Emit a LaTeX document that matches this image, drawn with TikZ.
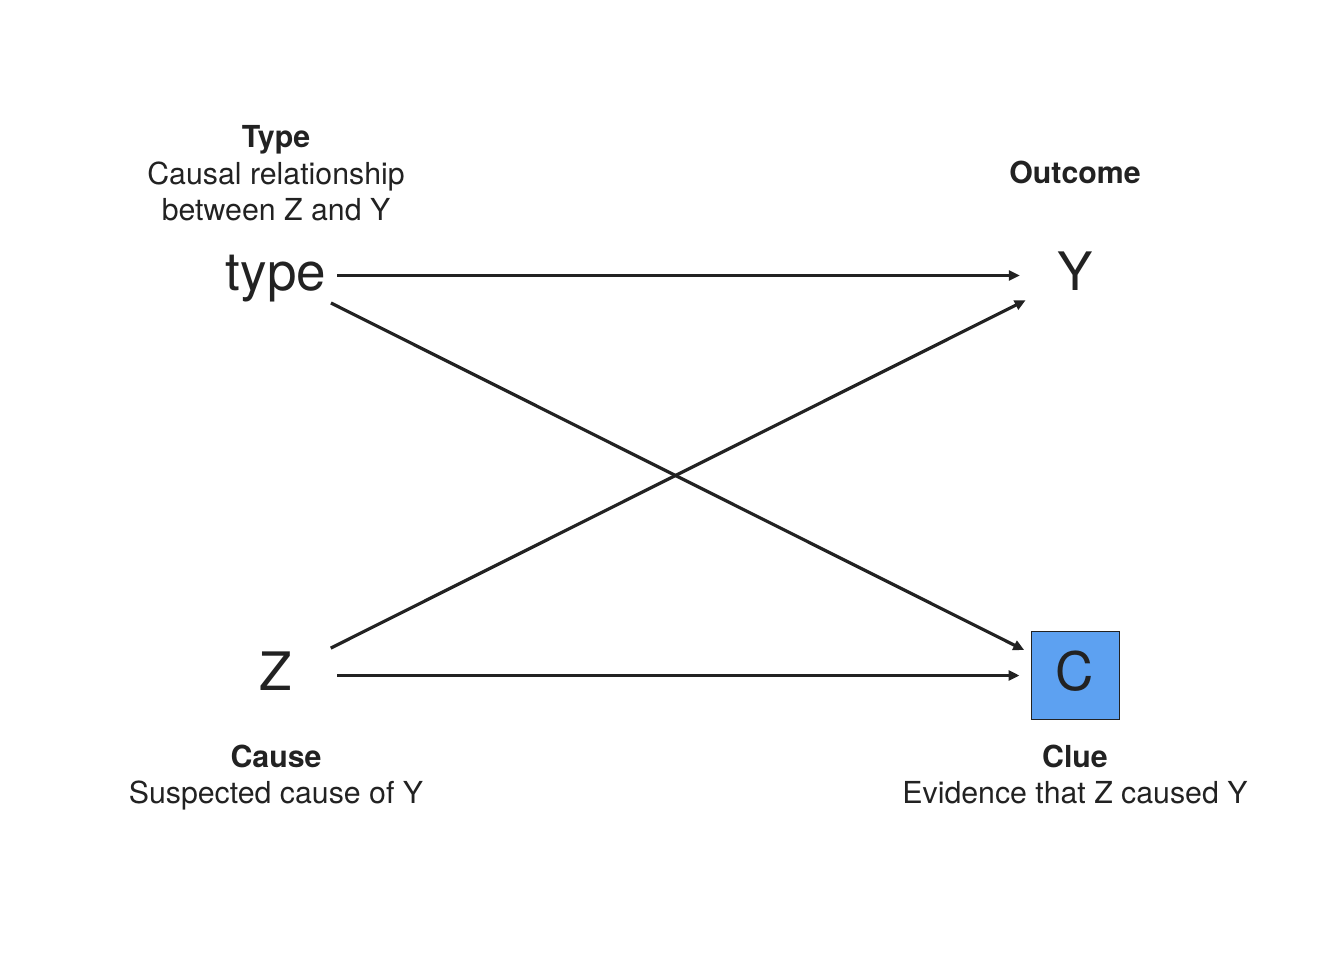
\documentclass[tikz,border=0pt]{standalone}
\usepackage{fontspec}
\setmainfont{TeX Gyre Heros}
\usetikzlibrary{arrows.meta}
\definecolor{ink}{HTML}{222222}
\definecolor{cluefill}{HTML}{5DA1F1}
\begin{document}
\begin{tikzpicture}[x=1pt,y=-1pt,
  var/.style={circle, minimum size=110pt, inner sep=0pt, text height=38pt, text depth=9pt,
    font=\fontsize{53}{60}\selectfont, text=ink},
  cluebox/.style={rectangle, draw=ink, fill=cluefill, line width=1pt, minimum size=88pt,
    inner sep=0pt, text height=38pt, text depth=9pt, font=\fontsize{53}{60}\selectfont, text=ink},
  lab/.style={anchor=base, inner sep=0pt, font=\fontsize{30.3}{36}\selectfont, text=ink},
  labb/.style={anchor=base, inner sep=0pt, font=\fontsize{30.3}{36}\selectfont\bfseries, text=ink},
  edge/.style={draw=ink, line width=3.2pt, -{Triangle[length=11pt,width=10pt]}, shorten <=6pt}]
\useasboundingbox (0,0) rectangle (1344,960);
\node[var] (type) at (276,275.5) {type};
\node[var] (Y) at (1075,275.5) {Y};
\node[var] (Z) at (276,675.5) {Z};
\node[cluebox] (C) at (1075,675.5) {C};
\draw[edge] (type) -- (Y);
\draw[edge, shorten >=7pt] (type) -- (C);
\draw[edge] (Z) -- (Y);
\draw[edge, shorten >=11pt] (Z) -- (C);
\node[labb] (typeT) at (276,148) {Type};
\node[lab] (typeA) at (276,185) {Causal relationship};
\node[lab] (typeB) at (276,221) {between Z and Y};
\node[labb] (outT) at (1075,184) {Outcome};
\node[labb] (causeT) at (276,767) {Cause};
\node[lab] (causeA) at (276,803) {Suspected cause of Y};
\node[labb] (clueT) at (1075,767) {Clue};
\node[lab] (clueA) at (1075,803) {Evidence that Z caused Y};
\end{tikzpicture}
\end{document}
